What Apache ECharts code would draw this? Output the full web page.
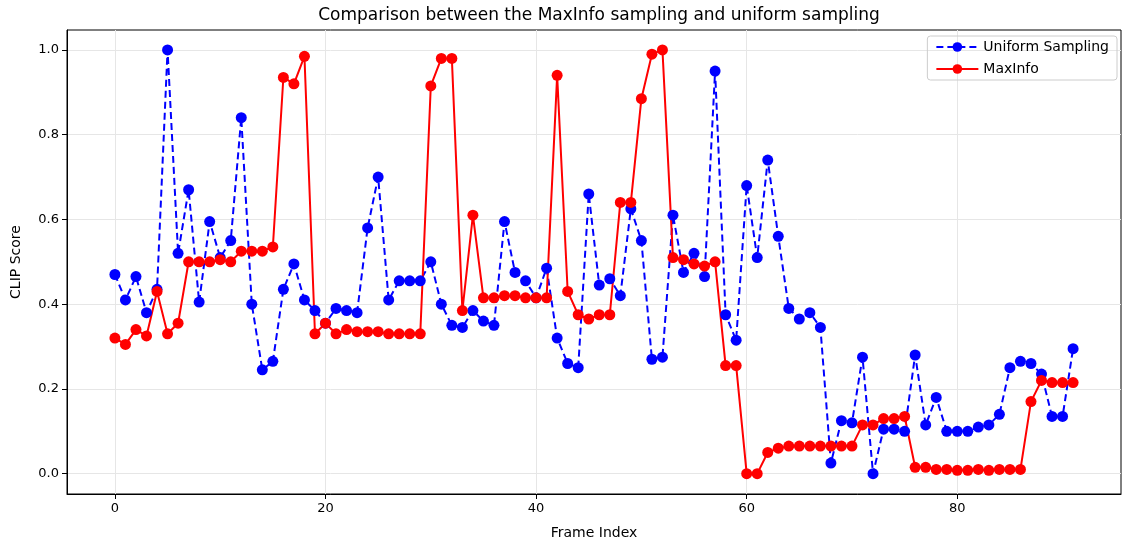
<!DOCTYPE html>
<html>
<head>
<meta charset="utf-8">
<script src="https://cdn.jsdelivr.net/npm/echarts@6/dist/echarts.min.js"></script>
<style>html,body{margin:0;padding:0;background:#fff}#chart-container{width:1133px;height:546px}</style>
</head>
<body>
<div id="chart-container"></div>
<script>
var uniform = [0.47, 0.41, 0.465, 0.38, 0.435, 1.0, 0.52, 0.67, 0.405, 0.595,
  0.51, 0.55, 0.84, 0.40, 0.245, 0.265, 0.435, 0.495, 0.41, 0.385,
  0.355, 0.39, 0.385, 0.38, 0.58, 0.70, 0.41, 0.455, 0.455, 0.455,
  0.50, 0.40, 0.35, 0.345, 0.385, 0.36, 0.35, 0.595, 0.475, 0.455,
  0.415, 0.485, 0.32, 0.26, 0.25, 0.66, 0.445, 0.46, 0.42, 0.625,
  0.55, 0.27, 0.275, 0.61, 0.475, 0.52, 0.465, 0.95, 0.375, 0.315,
  0.68, 0.51, 0.74, 0.56, 0.39, 0.365, 0.38, 0.345, 0.025, 0.125,
  0.12, 0.275, 0.0, 0.105, 0.105, 0.10, 0.28, 0.115, 0.18, 0.10,
  0.10, 0.10, 0.11, 0.115, 0.14, 0.25, 0.265, 0.26, 0.235, 0.135,
  0.135, 0.295];
var maxinfo = [0.32, 0.305, 0.34, 0.325, 0.43, 0.33, 0.355, 0.50, 0.50, 0.50,
  0.505, 0.50, 0.525, 0.525, 0.525, 0.535, 0.935, 0.92, 0.985, 0.33,
  0.355, 0.33, 0.34, 0.335, 0.335, 0.335, 0.33, 0.33, 0.33, 0.33,
  0.915, 0.98, 0.98, 0.385, 0.61, 0.415, 0.415, 0.42, 0.42, 0.415,
  0.415, 0.415, 0.94, 0.43, 0.375, 0.365, 0.375, 0.375, 0.64, 0.64,
  0.885, 0.99, 1.0, 0.51, 0.505, 0.495, 0.49, 0.50, 0.255, 0.255,
  0.0, 0.0, 0.05, 0.06, 0.065, 0.065, 0.065, 0.065, 0.065, 0.065,
  0.065, 0.115, 0.115, 0.13, 0.13, 0.135, 0.015, 0.015, 0.01, 0.01,
  0.008, 0.008, 0.01, 0.008, 0.01, 0.01, 0.01, 0.17, 0.22, 0.215,
  0.215, 0.215];
var xTicks = [0, 20, 40, 60, 80];
var yTicks = [0, 0.2, 0.4, 0.6, 0.8, 1.0];

function pairs(arr) {
  return arr.map(function (v, i) { return [i, v]; });
}

var dom = document.getElementById("chart-container");
var myChart = echarts.init(dom, null, { renderer: "canvas" });

var font = "DejaVu Sans";
var option = {
  animation: false,
  textStyle: { fontFamily: font },
  title: {
    text: "Comparison between the MaxInfo sampling and uniform sampling",
    left: 594,
    textAlign: "center",
    top: 2,
    textStyle: { fontSize: 17, fontWeight: "normal", color: "#000", fontFamily: font },
  },
  legend: {
    orient: "vertical",
    right: 16,
    top: 36,
    itemWidth: 42,
    itemHeight: 12,
    itemGap: 8,
    padding: [4, 8],
    borderColor: "#ccc",
    borderWidth: 1,
    borderRadius: 3,
    textStyle: { fontSize: 14, color: "#000" },
    data: ["Uniform Sampling", "MaxInfo"],
  },
  grid: {
    left: 67, right: 12, top: 30, bottom: 52,
    show: true, borderColor: "#000", borderWidth: 1,
  },
  xAxis: {
    type: "value",
    min: -4.55,
    max: 95.55,
    name: "Frame Index",
    nameLocation: "middle",
    nameGap: 32,
    nameTextStyle: { fontSize: 14, color: "#000" },
    axisLine: { onZero: false, lineStyle: { color: "#000" } },
    axisTick: { customValues: xTicks, lineStyle: { color: "#000" } },
    axisLabel: { customValues: xTicks, fontSize: 13, color: "#000" },
    splitLine: { show: true, lineStyle: { color: "#e6e6e6" } },
  },
  yAxis: {
    type: "value",
    min: -0.048,
    max: 1.047,
    name: "CLIP Score",
    nameLocation: "middle",
    nameGap: 44,
    nameTextStyle: { fontSize: 14, color: "#000" },
    axisLine: { show: true, onZero: false, lineStyle: { color: "#000" } },
    axisTick: { show: true, customValues: yTicks, lineStyle: { color: "#000" } },
    axisLabel: { customValues: yTicks, fontSize: 13, color: "#000",
      formatter: function (v) { return v.toFixed(1); } },
    splitLine: { show: true, lineStyle: { color: "#e6e6e6" } },
  },
  series: [
    {
      name: "Uniform Sampling",
      type: "line",
      data: pairs(uniform),
      symbol: "circle",
      symbolSize: 11,
      itemStyle: { color: "#0000ff" },
      lineStyle: { color: "#0000ff", width: 2, type: [7, 4] },
    },
    {
      name: "MaxInfo",
      type: "line",
      data: pairs(maxinfo),
      symbol: "circle",
      symbolSize: 11,
      itemStyle: { color: "#ff0000" },
      lineStyle: { color: "#ff0000", width: 2 },
    },
  ],
};

myChart.setOption(option);
window.addEventListener("resize", myChart.resize);
</script>
</body>
</html>
